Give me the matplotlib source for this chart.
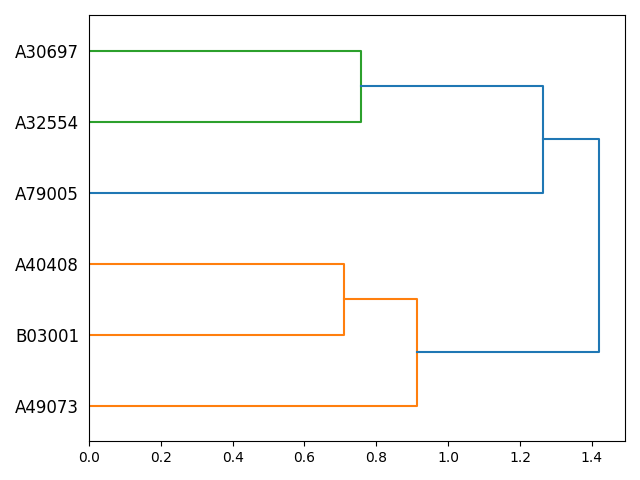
import matplotlib
matplotlib.use("Agg")
import matplotlib.pyplot as plt

# leaves in plotted order (bottom to top)
leaves = ["A49073", "B03001", "A40408", "A79005", "A32554", "A30697"]

# merges: (left node, right node, height); new nodes are numbered after the leaves
merge_left = [1, 4, 0, 3, 8]
merge_right = [2, 5, 6, 7, 9]
merge_height = [0.71, 0.757, 0.914, 1.264, 1.421]
merge_color = ["C1", "C2", "C1", "C0", "C0"]

fig, ax = plt.subplots(figsize=(6.4, 4.8), dpi=100)

# leaf positions like scipy: 5, 15, 25, ...
pos = {i: 5 + 10 * i for i in range(len(leaves))}
hgt = {i: 0.0 for i in range(len(leaves))}

for k in range(len(merge_height)):
    a, b, h = merge_left[k], merge_right[k], merge_height[k]
    ya, yb = pos[a], pos[b]
    ax.plot([hgt[a], h, h, hgt[b]], [ya, ya, yb, yb], color=merge_color[k])
    node = len(leaves) + k
    pos[node] = (ya + yb) / 2
    hgt[node] = h

ax.set_xlim(0, max(merge_height) * 1.05)
ax.set_ylim(0, 10 * len(leaves))
ax.set_yticks([pos[i] for i in range(len(leaves))])
ax.set_yticklabels(leaves, size=12)
for line in ax.get_yticklines():
    line.set_visible(False)

plt.tight_layout()
plt.savefig("out.png")
